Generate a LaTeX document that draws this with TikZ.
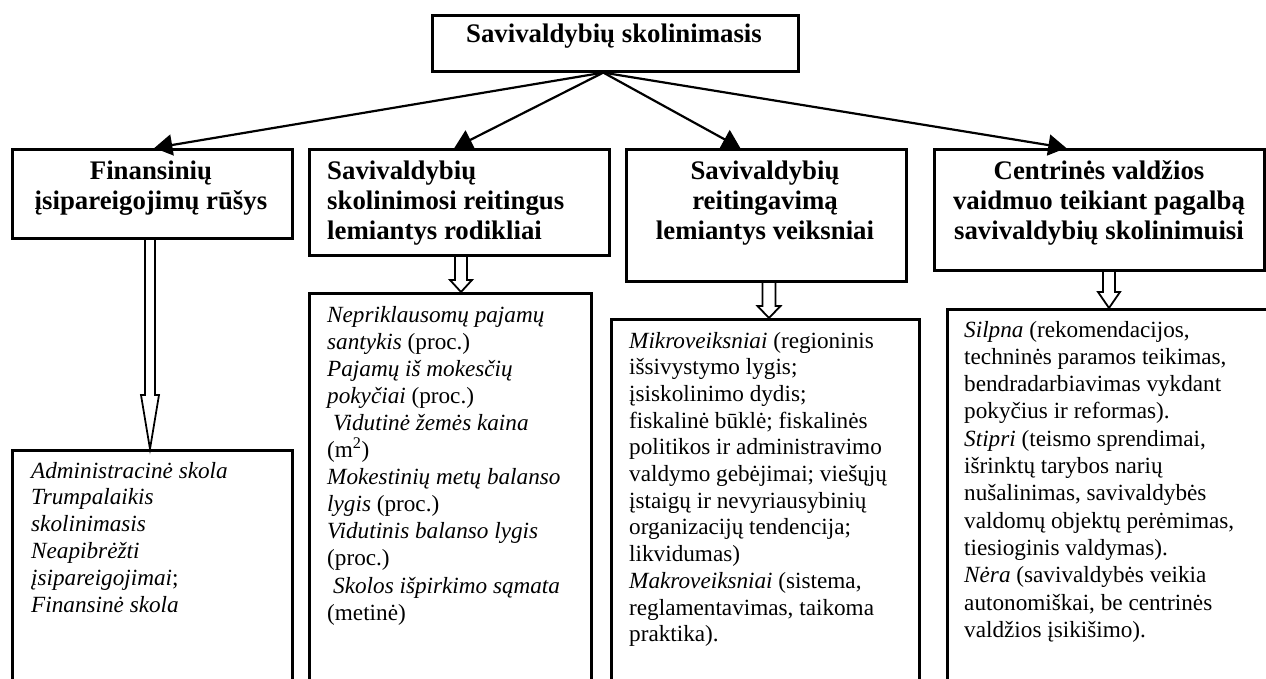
\documentclass[tikz,border=0pt]{standalone}
\usepackage{fontspec}
\setmainfont{Liberation Serif}
\usetikzlibrary{arrows.meta,calc}
\newcommand{\hdfont}{\fontsize{26.8pt}{29.6pt}\selectfont\bfseries}
\newcommand{\hollowarrow}[6]{%
  \draw[hollow] let \p1=(#1.south), \p2=(#2.north) in
    (#3pt-#4pt,\y1) -- (#3pt-#4pt,\y2+#6pt) -- (#3pt-#5pt,\y2+#6pt) -- (#3pt,\y2)
    -- (#3pt+#5pt,\y2+#6pt) -- (#3pt+#4pt,\y2+#6pt) -- (#3pt+#4pt,\y1);
}
\tikzset{
  boxstyle/.style={draw=black, line width=2.6pt, rectangle, inner sep=0pt, anchor=north west},
  conn/.style={line width=2.2pt, -{Triangle[length=18pt,width=21pt]}},
  hollow/.style={draw=black, line width=1.8pt, line join=miter},
  hdc/.style={font=\hdfont, anchor=base, inner sep=0pt},
  hdl/.style={font=\hdfont, anchor=base west, inner sep=0pt},
  bdl/.style={font={\fontsize{23.2pt}{#1}\selectfont}, anchor=base west, inner sep=0pt},
}
\begin{document}
\begin{tikzpicture}[x=1pt,y=-1pt]
\useasboundingbox (0,0) rectangle (1266,679);
\clip (0,0) rectangle (1266,679);
% boxes
\node[boxstyle, minimum width=366pt, minimum height=56pt] (top) at (431,14) {};
\node[boxstyle, minimum width=280pt, minimum height=89pt] (b1) at (11,148) {};
\node[boxstyle, minimum width=300pt, minimum height=106pt] (b2) at (308,148) {};
\node[boxstyle, minimum width=280pt, minimum height=132pt] (b3) at (625,148) {};
\node[boxstyle, minimum width=330pt, minimum height=121pt] (b4) at (933,148) {};
\node[boxstyle, minimum width=280pt, minimum height=280pt] (bb1) at (11,449) {};
\node[boxstyle, minimum width=282pt, minimum height=430pt] (bb2) at (308,292) {};
\node[boxstyle, minimum width=308pt, minimum height=400pt] (bb3) at (610,318) {};
\node[boxstyle, minimum width=344pt, minimum height=410pt] (bb4) at (946,308) {};
% headings
\node[hdc] (ttop) at (614,43) {Savivaldybių skolinimasis};
\node[hdc] (tb1) at (151,180) {\parbox[t]{280pt}{\centering Finansinių\\ įsipareigojimų rūšys}};
\node[hdl] (tb2) at (327,180) {\parbox[t]{300pt}{\raggedright Savivaldybių\\ skolinimosi reitingus\\ lemiantys rodikliai}};
\node[hdc] (tb3) at (765,180) {\parbox[t]{300pt}{\centering Savivaldybių\\ reitingavimą\\ lemiantys veiksniai}};
\node[hdc] (tb4) at (1099,180) {\parbox[t]{340pt}{\centering Centrinės valdžios\\ vaidmuo teikiant pagalbą\\ savivaldybių skolinimuisi}};
% body texts
\node[bdl=26.8pt] (tbb1) at (31,478) {\parbox[t]{300pt}{\raggedright
  \textit{Administracinė skola}\\
  \textit{Trumpalaikis}\\
  \textit{skolinimasis}\\
  \textit{Neapibrėžti}\\
  \textit{įsipareigojimai};\\
  \textit{Finansinė skola}}};
\node[bdl=27.1pt] (tbb2) at (327,322) {\parbox[t]{320pt}{\raggedright
  \textit{Nepriklausomų pajamų}\\
  \textit{santykis} (proc.)\\
  \textit{Pajamų iš mokesčių}\\
  \textit{pokyčiai} (proc.)\\
  \hspace*{6pt}\textit{Vidutinė žemės kaina}\\
  (m\textsuperscript{2})\\
  \textit{Mokestinių metų balanso}\\
  \textit{lygis} (proc.)\\
  \textit{Vidutinis balanso lygis}\\
  (proc.)\\
  \hspace*{6pt}\textit{Skolos išpirkimo sąmata}\\
  (metinė)}};
\node[bdl=26.7pt] (tbb3) at (629,348) {\parbox[t]{340pt}{\raggedright
  \textit{Mikroveiksniai} (regioninis\\
  išsivystymo lygis;\\
  įsiskolinimo dydis;\\
  fiskalinė būklė; fiskalinės\\
  politikos ir administravimo\\
  valdymo gebėjimai; viešųjų\\
  įstaigų ir nevyriausybinių\\
  organizacijų tendencija;\\
  likvidumas)\\
  \textit{Makroveiksniai} (sistema,\\
  reglamentavimas, taikoma\\
  praktika).}};
\node[bdl=27.3pt] (tbb4) at (964,337) {\parbox[t]{340pt}{\raggedright
  \textit{Silpna} (rekomendacijos,\\
  techninės paramos teikimas,\\
  bendradarbiavimas vykdant\\
  pokyčius ir reformas).\\
  \textit{Stipri} (teismo sprendimai,\\
  išrinktų tarybos narių\\
  nušalinimas, savivaldybės\\
  valdomų objektų perėmimas,\\
  tiesioginis valdymas).\\
  \textit{Nėra} (savivaldybės veikia\\
  autonomiškai, be centrinės\\
  valdžios įsikišimo).}};
% connectors
\coordinate (o) at ([xshift=-12pt]top.south);
\draw[conn] (o) -- ([xshift=2pt]b1.north);
\draw[conn] (o) -- ([xshift=-5pt]b2.north);
\draw[conn] (o) -- ([xshift=-26pt]b3.north);
\draw[conn] (o) -- ([xshift=-33pt]b4.north);
% hollow arrows
\hollowarrow{b1}{bb1}{150}{5}{9}{54}
\hollowarrow{b2}{bb2}{461}{6}{11}{12}
\hollowarrow{b3}{bb3}{769}{6.5}{11.5}{12}
\hollowarrow{b4}{bb4}{1109}{6}{11}{16}
\end{tikzpicture}
\end{document}
